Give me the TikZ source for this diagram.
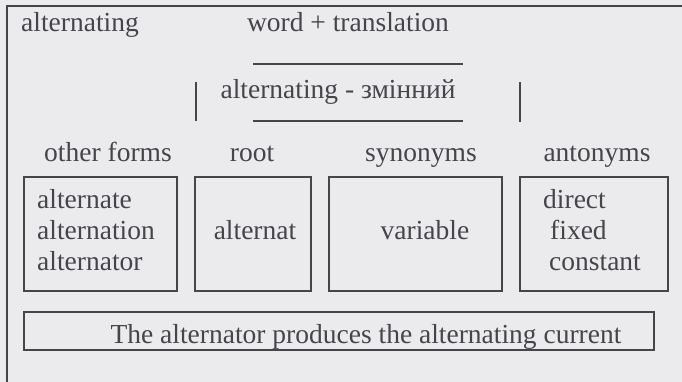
\documentclass[tikz,border=0pt]{standalone}
\usepackage{fontspec}
\setmainfont{Liberation Serif}
\definecolor{bg}{HTML}{EBEAED}
\definecolor{ink}{HTML}{45454A}
\begin{document}
\begin{tikzpicture}[x=1pt,y=-1pt,
  txt/.style={text=ink,font=\fontsize{27.5}{32}\selectfont,inner sep=0pt},
  frame/.style={draw=ink,line width=1.4pt}]
\fill[bg] (0,0) rectangle (682,382);
\useasboundingbox (0,0) rectangle (682,382);
% outer frame
\coordinate (ftl) at (7,6);
\coordinate (ftr) at (682,6);
\coordinate (fbl) at (7,382);
\draw[frame,line width=1.2pt] (fbl) -- (ftl) -- (ftr);
% header
\node[txt,anchor=base west] (head) at (21,32) {alternating};
\node[txt,anchor=base] (wt) at (348,32) {word + translation};
% word + translation frame
\coordinate (l1a) at (253,64);
\coordinate (l1b) at (463,64);
\coordinate (l2a) at (253,121);
\coordinate (l2b) at (463,121);
\coordinate (v1a) at (196,82);
\coordinate (v1b) at (196,121);
\coordinate (v2a) at (520,82);
\coordinate (v2b) at (520,122);
\draw[frame] (l1a) -- (l1b);
\draw[frame] (l2a) -- (l2b);
\draw[frame] (v1a) -- (v1b);
\draw[frame] (v2a) -- (v2b);
\node[txt,anchor=base] (word) at (338,99) {alternating - змінний};
% category labels
\node[txt,anchor=base] (lab1) at (108,162) {other forms};
\node[txt,anchor=base] (lab2) at (252,162) {root};
\node[txt,anchor=base] (lab3) at (421,162) {synonyms};
\node[txt,anchor=base] (lab4) at (597,162) {antonyms};
% boxes
\draw[frame] (24,177) rectangle (177,291);
\draw[frame] (195,177) rectangle (311,291);
\draw[frame] (329,177) rectangle (502,291);
\draw[frame] (520,177) rectangle (668,291);
\node[txt,anchor=base west] (f1) at (37,208) {alternate};
\node[txt,anchor=base west] (f2) at (37,239) {alternation};
\node[txt,anchor=base west] (f3) at (37,270) {alternator};
\node[txt,anchor=base] (r1) at (255,239) {alternat};
\node[txt,anchor=base] (s1) at (425,239) {variable};
\node[txt,anchor=base west] (a1) at (543,208) {direct};
\node[txt,anchor=base west] (a2) at (550,239) {fixed};
\node[txt,anchor=base west] (a3) at (549,270) {constant};
% sentence box
\draw[frame] (24,312) rectangle (654,350);
\node[txt,anchor=base] (sent) at (366,343) {The alternator produces the alternating current};
\end{tikzpicture}
\end{document}
